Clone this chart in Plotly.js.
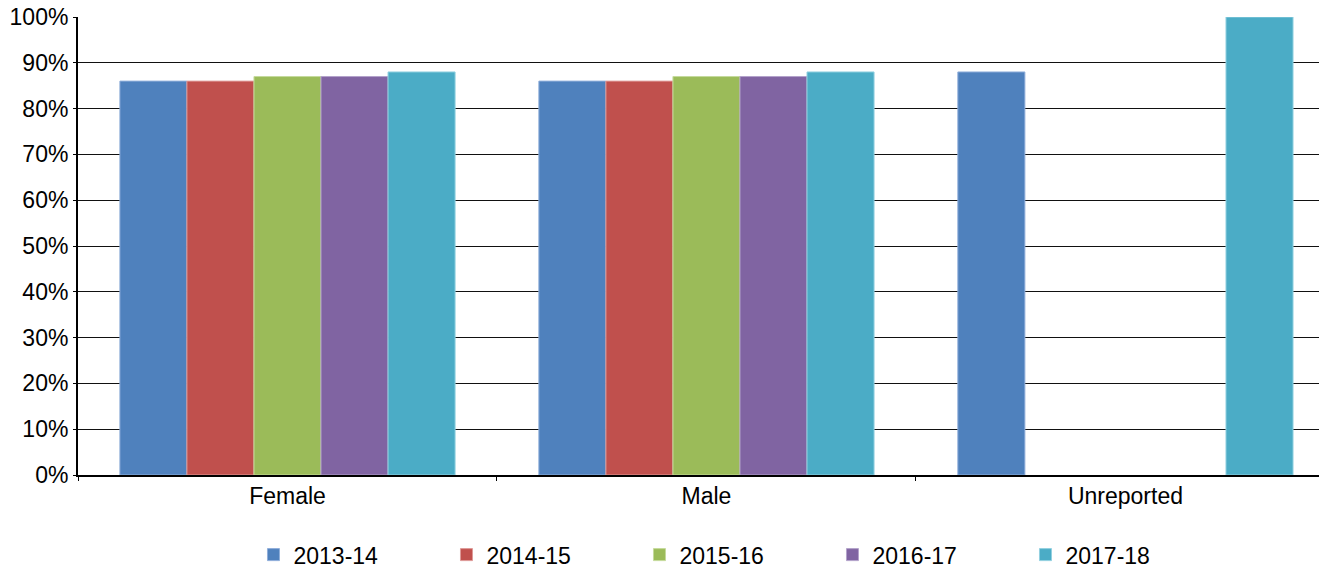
<!DOCTYPE html>
<html>
<head>
<meta charset="utf-8">
<script src="https://cdn.plot.ly/plotly-3.0.1.min.js"></script>
<style>html,body{margin:0;padding:0;background:#fff;}#chart{width:1319px;height:570px;}</style>
</head>
<body>
<div id="chart"></div>
<script>
var categories = ["Female", "Male", "Unreported"];
var seriesNames = ["2013-14", "2014-15", "2015-16", "2016-17", "2017-18"];
var v2013_14 = [0.86, 0.86, 0.88];
var v2014_15 = [0.86, 0.86, null];
var v2015_16 = [0.87, 0.87, null];
var v2016_17 = [0.87, 0.87, null];
var v2017_18 = [0.88, 0.88, 1.00];
var yTickVals = [0, 0.1, 0.2, 0.3, 0.4, 0.5, 0.6, 0.7, 0.8, 0.9, 1.0];
var yTickText = ["0%", "10%", "20%", "30%", "40%", "50%", "60%", "70%", "80%", "90%", "100%"];

var seriesValues = [v2013_14, v2014_15, v2015_16, v2016_17, v2017_18];
var colors = ["#4F81BD", "#C0504D", "#9BBB59", "#8064A2", "#4BACC6"];
var lineColors = ["#8FAEDA", "#DE9A98", "#C5DA9C", "#B3A2CB", "#92D0E0"];

var traces = seriesNames.map(function (name, i) {
  return {
    type: "bar",
    name: name,
    x: categories,
    y: seriesValues[i],
    marker: { color: colors[i], line: { color: lineColors[i], width: 1 } },
    hoverinfo: "none"
  };
});

var font = { family: "Liberation Sans, Arial, sans-serif", size: 23, color: "#000" };

var layout = {
  width: 1319,
  height: 570,
  margin: { l: 78, r: 0, t: 17, b: 95, pad: 0, autoexpand: false },
  paper_bgcolor: "#fff",
  plot_bgcolor: "#fff",
  font: font,
  barmode: "group",
  bargap: 0.2,
  bargroupgap: 0,
  showlegend: true,
  legend: {
    orientation: "h",
    x: 0.1414,
    xanchor: "left",
    y: -0.127,
    yanchor: "top",
    font: font,
    entrywidth: 148,
    entrywidthmode: "pixels",
    itemclick: false,
    itemdoubleclick: false,
    traceorder: "normal"
  },
  xaxis: {
    type: "category",
    range: [-0.5, 2.462],
    showline: true,
    linecolor: "#000",
    linewidth: 1.5,
    ticks: "outside",
    tickson: "boundaries",
    ticklen: 4,
    tickcolor: "#000",
    showgrid: false,
    tickfont: font,
    zeroline: false,
    fixedrange: true
  },
  yaxis: {
    range: [0, 1],
    tickvals: yTickVals,
    ticktext: yTickText,
    showline: true,
    linecolor: "#000",
    linewidth: 2,
    ticks: "outside",
    ticklen: 3,
    tickcolor: "#000",
    showgrid: true,
    gridcolor: "#111",
    gridwidth: 1,
    zeroline: false,
    tickfont: font,
    fixedrange: true
  }
};

Plotly.newPlot("chart", traces, layout, { displayModeBar: false, staticPlot: true });
</script>
</body>
</html>
